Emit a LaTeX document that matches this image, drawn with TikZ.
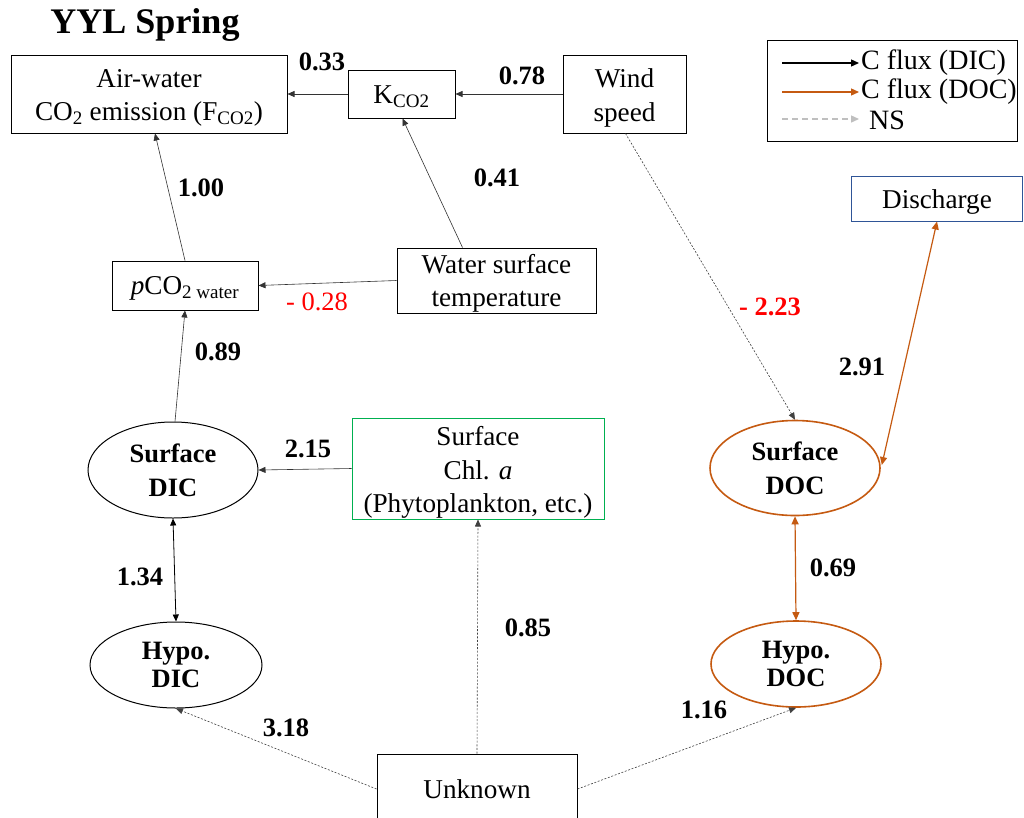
\documentclass[tikz,border=0pt]{standalone}
\usepackage{fontspec}
\setmainfont{Liberation Serif}
\usetikzlibrary{shapes.geometric,arrows.meta,calc}
\definecolor{docor}{HTML}{C55A11}
\definecolor{chlgreen}{HTML}{00B050}
\definecolor{discblue}{HTML}{2F5597}
\definecolor{nsgray}{HTML}{BFBFBF}
\tikzset{
  txt/.style={font=\fontsize{27.2}{33.5}\selectfont, align=center, inner sep=0pt},
  legtxt/.style={txt, font=\fontsize{28}{33}\selectfont},
  box/.style={draw=black, line width=1pt, inner sep=0pt},
  btext/.style 2 args={label={[txt,yshift=#1]center:#2}},
  oval/.style={ellipse, draw=black, line width=1pt, font=\bfseries\fontsize{26.5}{34}\selectfont, align=center, inner sep=0pt},
  hoval/.style={oval, font=\bfseries\fontsize{26.5}{28}\selectfont},
  dovl/.style={oval, draw=docor, line width=1.6pt},
  hdovl/.style={hoval, draw=docor, line width=1.6pt},
  lab/.style={font=\bfseries\fontsize{26.5}{30}\selectfont, inner sep=0pt},
  rlab/.style={font=\fontsize{26.5}{30}\selectfont, text=red, inner sep=0pt},
  dicarrow/.style={draw=black!80, line width=0.6pt, -{Triangle[length=7pt,width=6pt]}},
  dicboth/.style={draw=black, line width=0.8pt, {Triangle[length=7pt,width=6pt]}-{Triangle[length=7pt,width=6pt]}},
  docboth/.style={draw=docor, line width=1.2pt, {Triangle[length=8pt,width=7pt]}-{Triangle[length=8pt,width=7pt]}},
  nsarrow/.style={draw=black!75, line width=0.6pt, dash pattern=on 2pt off 1.6pt, -{Triangle[length=7pt,width=6pt]}},
}
\begin{document}
\begin{tikzpicture}[x=1pt,y=-1pt]
\clip (0,0) rectangle (1024,817);
\fill[white] (0,0) rectangle (1024,817);

% title
\node[font=\bfseries\fontsize{36}{40}\selectfont, inner sep=0pt] (title) at (145,25) {YYL Spring};

% boxes
\node[box, minimum width=276, minimum height=78, btext={-4pt}{Air-water\\CO\textsubscript{2} emission (F\textsubscript{CO2})}] (air) at (149,94) {};
\node[box, minimum width=107, minimum height=48, btext={-3pt}{K\textsubscript{CO2}}] (k) at (401.5,94) {};
\node[box, minimum width=123, minimum height=78, btext={-4pt}{Wind\\speed}] (wind) at (624.5,94) {};
\node[box, minimum width=171, minimum height=45, draw=discblue, btext={-3pt}{Discharge}] (disc) at (937,198.5) {};
\node[box, minimum width=146, minimum height=49, btext={-3pt}{\textit{p}CO\textsubscript{2 water}}] (pco2) at (185,285.5) {};
\node[box, minimum width=199, minimum height=65, btext={-3pt}{Water surface\\temperature}] (wst) at (496.5,280.5) {};
\node[box, minimum width=252, minimum height=101, draw=chlgreen, btext={-4pt}{Surface\\Chl. \textit{a}\\(Phytoplankton, etc.)}] (chl) at (478,468.5) {};
\node[box, minimum width=200, minimum height=70, btext={0pt}{Unknown}] (unk) at (477,789) {};

% ellipses
\node[oval, minimum width=170, minimum height=96] (sdic) at (173,470) {Surface\\DIC};
\node[hoval, minimum width=172, minimum height=86] (hdic) at (176,665) {Hypo.\\DIC};
\node[dovl, minimum width=170, minimum height=95] (sdoc) at (795,468) {Surface\\DOC};
\node[hdovl, minimum width=170, minimum height=86] (hdoc) at (796,664) {Hypo.\\DOC};

% legend
\node[draw=black, line width=1pt, minimum width=250, minimum height=101, inner sep=0pt] (legend) at (892,90.5) {};
\coordinate (l1a) at (782,63);  \coordinate (l1b) at (859,63);
\coordinate (l2a) at (782,92);  \coordinate (l2b) at (859,92);
\coordinate (l3a) at (782,119); \coordinate (l3b) at (859,119);
\draw[draw=black, line width=1.3pt, -{Triangle[length=8pt,width=7pt]}] (l1a) -- (l1b);
\draw[draw=docor, line width=1.3pt, -{Triangle[length=8pt,width=7pt]}] (l2a) -- (l2b);
\draw[draw=nsgray, line width=1.3pt, dash pattern=on 6pt off 4pt, -{Triangle[length=8pt,width=7pt]}] (l3a) -- (l3b);
\node[legtxt, anchor=west] (lt1) at (861,63) {C flux (DIC)};
\node[legtxt, anchor=west] (lt2) at (861,92) {C flux (DOC)};
\node[legtxt, anchor=west] (lt3) at (869,120) {NS};

% connectors
\draw[dicarrow] (k.west) -- (air.east);
\draw[dicarrow] (wind.west) -- (k.east);
\draw[dicarrow] ($(wst.north)+(-34,0)$) -- ($(k.south)+(1,0)$);
\draw[dicarrow] (pco2.north) -- ($(air.south)+(6,0)$);
\draw[dicarrow] (wst.west) -- (pco2.east);
\draw[dicarrow] ($(sdic.north)+(2,0)$) -- (pco2.south);
\draw[dicarrow] (chl.west) -- (sdic.east);
\draw[dicboth] (sdic.south) -- (hdic.north);
\draw[nsarrow] (unk.north) -- (chl.south);
\draw[nsarrow] (unk.west) -- (hdic.south);
\draw[nsarrow] (unk.east) -- (hdoc.south);
\draw[nsarrow] ($(wind.south)+(1,0)$) -- (sdoc.north);
\draw[docboth] ($(sdoc.east)+(1,-3)$) -- (disc.south);
\draw[docboth] (sdoc.south) -- (hdoc.north);

% labels
\node[lab] (v033) at (322,62) {0.33};
\node[lab] (v078) at (522,76) {0.78};
\node[lab] (v041) at (497,178) {0.41};
\node[lab] (v100) at (201,188) {1.00};
\node[rlab] (v028) at (317,302) {- 0.28};
\node[lab] (v089) at (218,352) {0.89};
\node[lab] (v215) at (308,449) {2.15};
\node[lab] (v134) at (140,577) {1.34};
\node[lab] (v085) at (528,628) {0.85};
\node[lab] (v318) at (286,728) {3.18};
\node[lab] (v116) at (704,710) {1.16};
\node[lab, text=red] (v223) at (770,307) {- 2.23};
\node[lab] (v291) at (862,367) {2.91};
\node[lab] (v069) at (833,568) {0.69};
\end{tikzpicture}
\end{document}
